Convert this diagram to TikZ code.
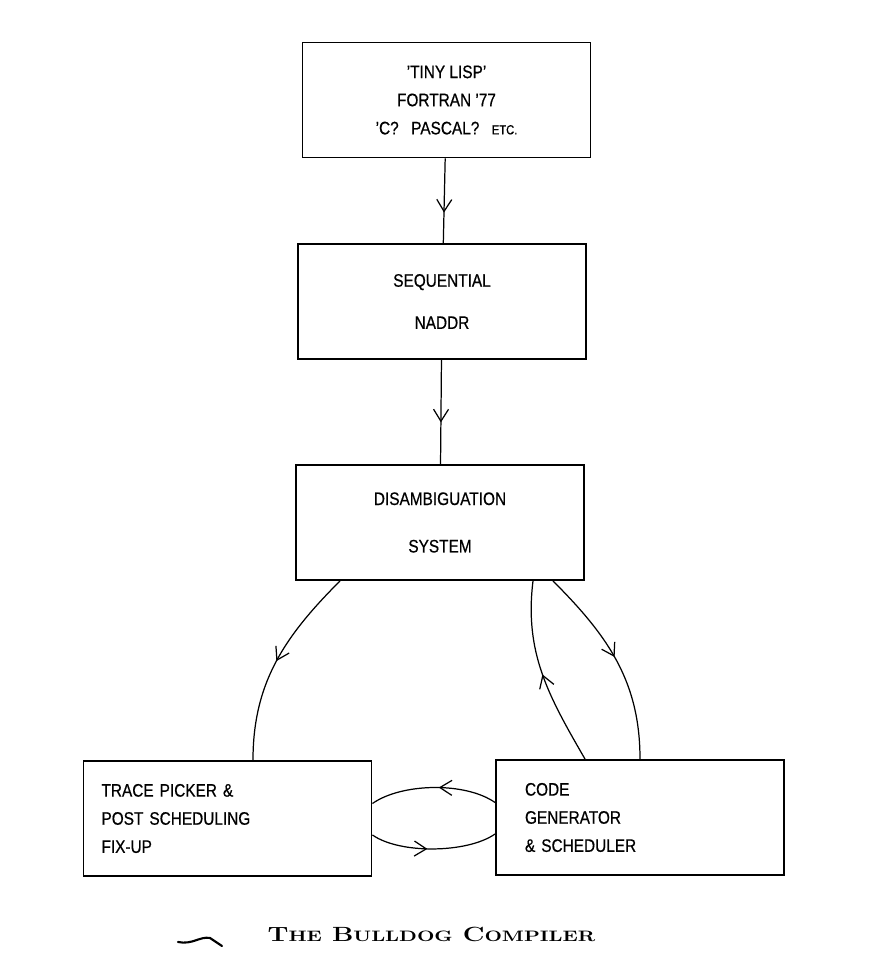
\documentclass[tikz,border=0pt]{standalone}
\usepackage{fontspec}
\usetikzlibrary{arrows.meta}
\usetikzlibrary{decorations.markings}
\newfontfamily\plotfont{Liberation Sans}[FakeStretch=0.85,FakeBold=0.6]
\newfontfamily\capfont{Latin Modern Roman}[FakeStretch=1.3]
\newcommand{\smallcap}[1]{{\fontsize{8.6}{10}\selectfont #1}}

\begin{document}
\begin{tikzpicture}[>={Straight Barb[length=2.4mm,width=3mm]},line width=0.7pt,
    box node/.style={rectangle,draw,line width=1.1pt,minimum width=5.76cm,minimum height=2.3cm,align=center,font=\plotfont\fontsize{10.3}{16}\selectfont},
    left node/.style={box node,align=left,text width=5.04cm,inner xsep=0.36cm},
    mid arrow/.style={postaction={decorate},decoration={markings,mark=at position #1 with {\arrow{>}}}}]
  \useasboundingbox (0,0) rectangle (17.58,19.42);
  % language boxes down the middle
  \node[box node] (src) at (8.93,17.42) {’TINY LISP’\\FORTRAN ’77\\’C?\hspace{0.25cm}PASCAL?\hspace{0.25cm}{\fontsize{7.5}{16}\selectfont ETC.}};
  \node[box node] (seq) at (8.84,13.39) {SEQUENTIAL\\[8pt]NADDR};
  \node[box node] (dis) at (8.80,8.97) {DISAMBIGUATION\\[11pt]SYSTEM};
  \node[left node] (trace) at (4.55,3.05) {TRACE PICKER \&\\POST SCHEDULING\\FIX-UP};
  \node[left node,text width=4.6cm,inner xsep=0.58cm] (code) at (12.80,3.07) {CODE\\GENERATOR\\\& SCHEDULER};
  \path[draw,mid arrow=0.64] (src) -- (seq);
  \path[draw,mid arrow=0.6] (seq) -- (dis);
  % the loop at the bottom
  \path[draw,mid arrow=0.5] ([xshift=-2cm]dis.south) to[out=225,in=90] ([xshift=0.51cm]trace.north);
  \path[draw,mid arrow=0.48] ([xshift=2.26cm]dis.south) to[out=-45,in=90] (code.north);
  \path[draw,mid arrow=0.5] ([xshift=-1.1cm]code.north) to[out=120,in=263] ([xshift=1.86cm]dis.south);
  \path[draw,mid arrow=0.46] ([yshift=0.3cm]code.west) to[out=145,in=35,looseness=0.75] ([yshift=0.3cm]trace.east);
  \path[draw,mid arrow=0.45] ([yshift=-0.33cm]trace.east) to[out=-35,in=-145,looseness=0.7] ([yshift=-0.33cm]code.west);
  % caption
  \draw[line width=1.2pt,line cap=round] (3.56,0.58) .. controls (3.85,0.52) and (4.0,0.70) .. (4.2,0.66) -- (4.44,0.50);
  \node[anchor=base,font=\capfont\bfseries\fontsize{11.7}{14}\selectfont] (cap) at (8.63,0.58) {T\smallcap{HE} B\smallcap{ULLDOG} C\smallcap{OMPILER}};
\end{tikzpicture}
\end{document}
